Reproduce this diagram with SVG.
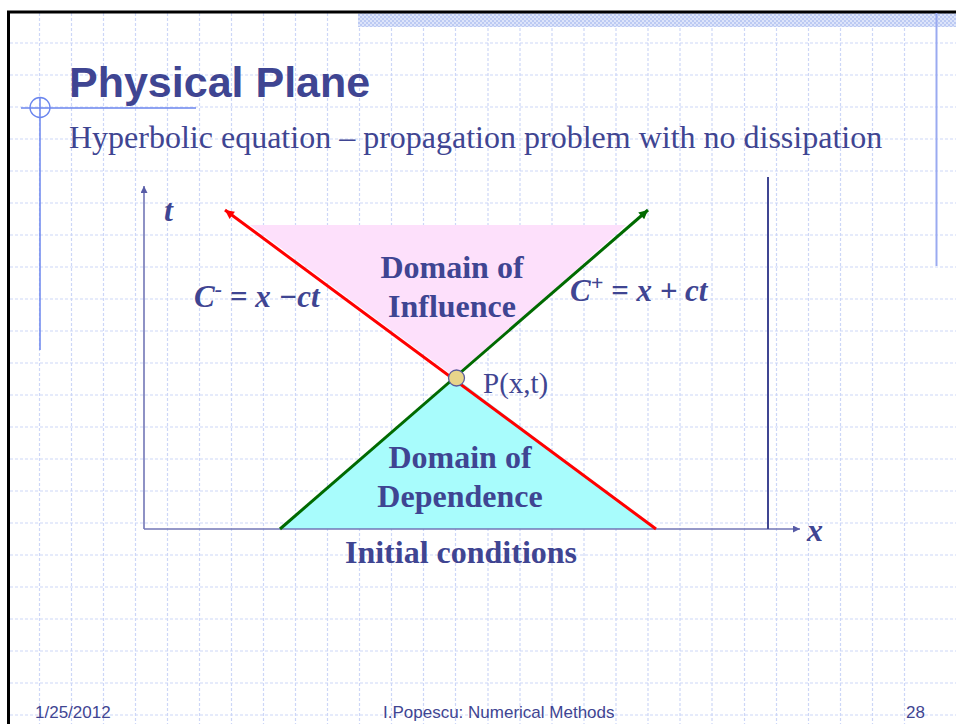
<svg xmlns="http://www.w3.org/2000/svg" width="956" height="724" viewBox="0 0 956 724">
<defs>
<style>
.grid{fill:none;stroke:#cdd7f7;stroke-width:1.2;stroke-dasharray:3 2}
.navy{fill:#3f4592}
.ttl{font-family:"Liberation Sans",Arial,sans-serif;font-weight:bold;font-size:43px}
.ser{font-family:"Liberation Serif","Times New Roman",serif}
.bld{font-family:"Liberation Serif","Times New Roman",serif;font-weight:bold;font-size:32px}
.ita{font-family:"Liberation Serif","Times New Roman",serif;font-weight:bold;font-style:italic}
.foot{font-family:"Liberation Sans",Arial,sans-serif;font-size:17px}
.axis{stroke:#7276b6;stroke-width:1.6;fill:none}
</style>
<pattern id="hatch" width="4" height="4" patternUnits="userSpaceOnUse">
<rect width="4" height="4" fill="#dde4fa"/>
<rect width="2" height="2" fill="#bccaf3"/>
<rect x="2" y="2" width="2" height="2" fill="#bccaf3"/>
</pattern>
<marker id="arAxis" viewBox="0 0 10 10" refX="10" refY="5" markerUnits="userSpaceOnUse" markerWidth="10" markerHeight="7" orient="auto">
<path d="M0,0L10,5L0,10z" fill="#575ba6"/>
</marker>
<marker id="arRed" viewBox="0 0 10 10" refX="10" refY="5" markerUnits="userSpaceOnUse" markerWidth="13" markerHeight="9" orient="auto">
<path d="M0,0L10,5L0,10z" fill="#ff0000"/>
</marker>
<marker id="arGreen" viewBox="0 0 10 10" refX="10" refY="5" markerUnits="userSpaceOnUse" markerWidth="13" markerHeight="9" orient="auto">
<path d="M0,0L10,5L0,10z" fill="#006a00"/>
</marker>
</defs>

<rect width="956" height="724" fill="#ffffff"/>

<g id="background">
<path class="grid" d="M39.5 13V724M71.5 13V724M103.5 13V724M135.5 13V724M167.5 13V724M199.5 13V724M231.5 13V724M263.5 13V724M295.5 13V724M327.5 13V724M359.5 13V724M391.5 13V724M423.5 13V724M455.5 13V724M488 13V724M520 13V724M552 13V724M584 13V724M616 13V724M648 13V724M680 13V724M712 13V724M744.5 13V724M776.5 13V724M808.5 13V724M840.5 13V724M872.5 13V724M904.5 13V724"/>
<path class="grid" d="M10 43H956M10 75H956M10 107H956M10 139H956M10 171H956M10 203H956M10 235H956M10 267H956M10 299H956M10 331H956M10 363H956M10 395H956M10 427H956M10 459H956M10 491H956M10 523H956M10 555H956M10 587H956M10 619H956M10 651H956M10 683H956M10 715H956"/>
<rect x="358" y="13" width="598" height="14" fill="url(#hatch)"/>
<path d="M8.5 724V12H956" fill="none" stroke="#000" stroke-width="3"/>
<line x1="936.5" y1="13" x2="936.5" y2="266" stroke="#9aaaf0" stroke-width="2"/>
<line x1="40" y1="97" x2="40" y2="350" stroke="#6b86ee" stroke-width="1.5"/>
<line x1="21" y1="108" x2="196" y2="108" stroke="#6b86ee" stroke-width="1.3"/>
<circle cx="40" cy="107.5" r="10" fill="none" stroke="#6b86ee" stroke-width="1.3"/>
</g>

<g id="title">
<text class="ttl navy" x="69" y="97">Physical Plane</text>
<text class="ser navy" x="69" y="148" font-size="32">Hyperbolic equation – propagation problem with no dissipation</text>
</g>

<g id="domain-influence">
<polygon points="250,225 626,225 456,378" fill="#fde0fb"/>
<text class="bld navy" x="452" y="278" text-anchor="middle">Domain of</text>
<text class="bld navy" x="452" y="317" text-anchor="middle">Influence</text>
</g>

<g id="domain-dependence">
<polygon points="280,529 656,529 456,378" fill="#a8fcfc"/>
<text class="bld navy" x="460" y="468" text-anchor="middle">Domain of</text>
<text class="bld navy" x="460" y="507" text-anchor="middle">Dependence</text>
</g>

<g id="connectors">
<line class="axis" x1="144" y1="529" x2="144" y2="186" marker-end="url(#arAxis)"/>
<line class="axis" x1="144" y1="529" x2="800" y2="529" marker-end="url(#arAxis)"/>
<line x1="768" y1="177" x2="768" y2="529" stroke="#3f4592" stroke-width="2"/>
<line x1="656" y1="529" x2="225" y2="210" stroke="#ff0000" stroke-width="3" marker-end="url(#arRed)"/>
<line x1="280" y1="529" x2="648" y2="210" stroke="#006a00" stroke-width="3" marker-end="url(#arGreen)"/>
</g>

<g id="point-P">
<circle cx="456.5" cy="378" r="8" fill="#e8d48a" stroke="#5a5c9c" stroke-width="1.3"/>
<text class="ser navy" x="483" y="393" font-size="29">P(x,t)</text>
</g>

<g id="labels">
<text class="ita navy" x="164" y="221" font-size="32">t</text>
<text class="ita navy" x="807" y="541" font-size="32">x</text>
<text class="ita navy" x="194" y="307" font-size="31">C<tspan font-size="22" dy="-11">-</tspan><tspan dy="11"> = x −ct</tspan></text>
<text class="ita navy" x="570" y="301" font-size="31">C<tspan font-size="22" dy="-11">+</tspan><tspan dy="11"> = x + ct</tspan></text>
<text class="bld navy" x="461" y="563" text-anchor="middle">Initial conditions</text>
</g>

<g id="footer">
<text class="foot navy" x="35" y="718">1/25/2012</text>
<text class="foot navy" x="383" y="718">I.Popescu:  Numerical Methods</text>
<text class="foot navy" x="906" y="718">28</text>
</g>
</svg>
